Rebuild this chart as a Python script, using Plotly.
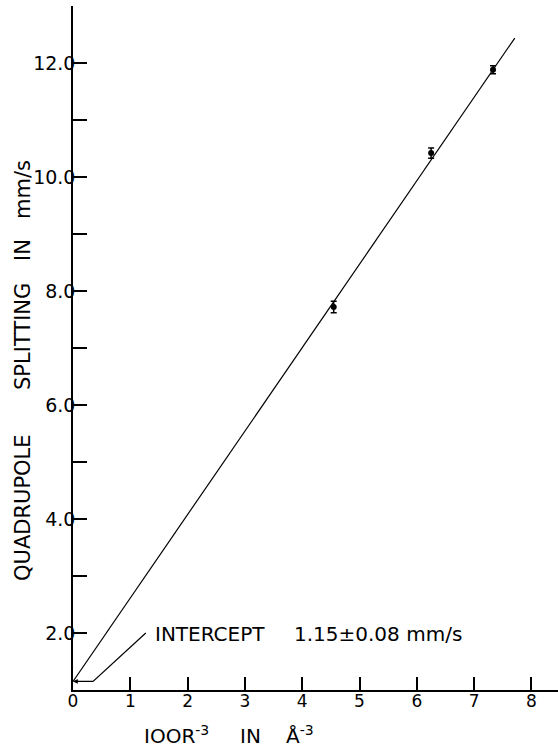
import plotly.graph_objects as go

# Data
r_inv3 = [4.55, 6.25, 7.33]          # 100 R^-3 in Å^-3
splitting = [7.72, 10.42, 11.88]     # quadrupole splitting, mm/s
splitting_err = [0.10, 0.09, 0.07]

intercept = 1.15
slope = 1.464
fit_x = [0.0, 7.71]
fit_y = [intercept + slope * v for v in fit_x]

x_ticks = [0, 1, 2, 3, 4, 5, 6, 7, 8]
x_ticktext = ["0", "1", "2", "3", "4", "5", "6", "7", "8"]
y_ticks = [2, 3, 4, 5, 6, 7, 8, 9, 10, 11, 12, 13]
y_ticktext = ["2.0", "", "4.0", "", "6.0", "", "8.0", "", "10.0", "", "12.0", ""]

W, H = 558, 752
ML, MR, MT, MB = 73, 0, 6, 62
PW, PH = W - ML - MR, H - MT - MB

def px(xp):
    return (xp - ML) / PW

def py(yp):
    return (H - MB - yp) / PH

FONT = "DejaVu Sans"

fig = go.Figure()
fig.add_trace(go.Scatter(
    x=fit_x, y=fit_y, mode="lines",
    line=dict(color="black", width=1.2), showlegend=False, hoverinfo="skip"))
fig.add_trace(go.Scatter(
    x=r_inv3, y=splitting, mode="markers",
    marker=dict(color="black", size=6, symbol="circle"),
    error_y=dict(type="data", array=splitting_err, color="black", thickness=1.5, width=3),
    showlegend=False))

# leader line from the intercept label to the y axis
fig.add_shape(type="path", xref="x", yref="y",
              path=f"M 1.27 2.0 L 0.35 {intercept} L 0.06 {intercept}",
              line=dict(color="black", width=1.2))
fig.add_annotation(x=0.0, y=intercept, ax=0.12, ay=intercept, xref="x", yref="y",
                   axref="x", ayref="y", showarrow=True, arrowhead=2, arrowsize=0.8,
                   arrowwidth=1.2, arrowcolor="black", text="")

ann = []
def text(t, xp, yp, size=20, angle=0, xanchor="center", yanchor="middle"):
    ann.append(dict(text=t, x=px(xp), y=py(yp), xref="paper", yref="paper",
                    showarrow=False, textangle=angle, xanchor=xanchor, yanchor=yanchor,
                    font=dict(family=FONT, size=size, color="black")))

text("INTERCEPT", 153, 634, size=20, xanchor="left")
text("1.15±0.08 mm/s", 292, 634, size=20, xanchor="left")

text("IOOR<sup>-3</sup>", 176, 750, size=20, yanchor="bottom")
text("IN", 250, 750, size=20, yanchor="bottom")
text("Å<sup>-3</sup>", 300, 750, size=20, yanchor="bottom")

text("QUADRUPOLE", 23, 508, size=21, angle=-90)
text("SPLITTING", 23, 337, size=21, angle=-90)
text("IN", 23, 250, size=21, angle=-90)
text("mm/s", 23, 190, size=21, angle=-90)

for a in ann:
    fig.add_annotation(**a)

fig.update_layout(
    width=W, height=H,
    margin=dict(l=ML, r=MR, t=MT, b=MB, pad=0),
    paper_bgcolor="white", plot_bgcolor="white",
    font=dict(family=FONT, color="black"),
    xaxis=dict(range=[0, (W - ML) / 57.3], showgrid=False, zeroline=False, automargin=False,
               showline=True, linecolor="black", linewidth=1.5,
               ticks="inside", ticklen=13, tickwidth=1.5, tickcolor="black",
               tickvals=x_ticks, ticktext=x_ticktext, tickfont=dict(size=17),
               ticklabelstandoff=-5),
    yaxis=dict(range=[1, 13], showgrid=False, zeroline=False, automargin=False,
               showline=True, linecolor="black", linewidth=1.5,
               ticks="inside", ticklen=14, tickwidth=1.5, tickcolor="black",
               tickvals=y_ticks, ticktext=y_ticktext, tickfont=dict(size=19),
               ticklabelstandoff=-8),
)

fig.write_html("out.html", config={"displayModeBar": False},
               post_script="document.body.style.margin='0';document.body.style.padding='0';")
